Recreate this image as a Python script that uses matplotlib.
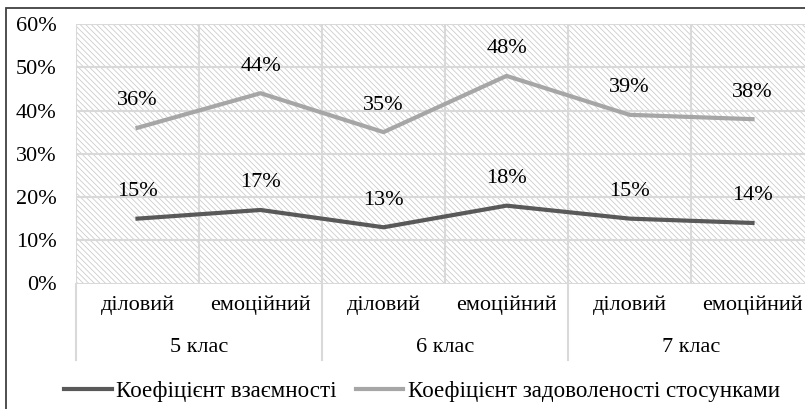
import matplotlib.pyplot as plt
from matplotlib.patches import Rectangle
import matplotlib.transforms as mtransforms

categories = ['діловий', 'емоційний', 'діловий', 'емоційний', 'діловий', 'емоційний']
groups = ['5 клас', '6 клас', '7 клас']
vzaiemnist = [15, 17, 13, 18, 15, 14]
zadovolenist = [36, 44, 35, 48, 39, 38]
series_names = ['Коефіцієнт взаємності', 'Коефіцієнт задоволеності стосунками']
yticks = [0, 10, 20, 30, 40, 50, 60]

plt.rcParams['font.family'] = ['Liberation Serif', 'DejaVu Serif']
plt.rcParams['hatch.linewidth'] = 0.6
fs = 16
grid_c = '#d9d9d9'

fig = plt.figure(figsize=(8.05, 4.09), dpi=100)
# chart border (cut off on right and bottom like the original)
fig.patches.append(Rectangle((6 / 805, -0.1), 1.2, 1 - 8 / 409 + 0.1,
                             transform=fig.transFigure, fill=False,
                             edgecolor='#404040', lw=1.3))

ax = fig.add_axes([76 / 805, 1 - 283.5 / 409, 738 / 805, 259.5 / 409])
ax.set_xlim(-0.5, 5.5)
ax.set_ylim(0, 60)

# hatched background
ax.add_patch(Rectangle((0, 0), 1, 1, transform=ax.transAxes, facecolor='white',
                       edgecolor='#cccccc', hatch='\\\\\\\\\\\\', lw=0, zorder=0))

for y in yticks:
    ax.axhline(y, color=grid_c, lw=1.5, zorder=1)
for i in range(len(categories) + 1):
    ax.axvline(i - 0.5, color=grid_c, lw=1.5, zorder=1)

x = range(len(categories))
ax.plot(x, vzaiemnist, color='#595959', lw=3, zorder=3, label=series_names[0])
ax.plot(x, zadovolenist, color='#a6a6a6', lw=3, zorder=3, label=series_names[1])

for xi, v in zip(x, vzaiemnist):
    ax.annotate(f'{v}%', (xi, v), xytext=(0, 19.5), textcoords='offset points',
                ha='center', va='center', fontsize=fs)
for xi, v in zip(x, zadovolenist):
    ax.annotate(f'{v}%', (xi, v), xytext=(0, 19.5), textcoords='offset points',
                ha='center', va='center', fontsize=fs)

for s in ax.spines.values():
    s.set_visible(False)
ax.set_yticks(yticks)
ax.set_yticklabels([f'{y}%' for y in yticks], fontsize=fs)
ax.tick_params(axis='y', length=0, pad=14)
ax.set_xticks([])

trans = mtransforms.blended_transform_factory(ax.transData, fig.transFigure)
for i, c in enumerate(categories):
    ax.text(i, 1 - 305 / 409, c, transform=trans, ha='center', va='center', fontsize=fs)
for g, name in enumerate(groups):
    ax.text(2 * g + 0.5, 1 - 348 / 409, name, transform=trans, ha='center', va='center', fontsize=fs)
for g in range(len(groups) + 1):
    ax.plot([2 * g - 0.5, 2 * g - 0.5], [1 - 283.5 / 409, 1 - 360 / 409], transform=trans,
            color=grid_c, lw=1.5, clip_on=False)

fig.legend(loc='center', bbox_to_anchor=(422 / 805, 1 - 391 / 409), ncol=2,
           frameon=False, fontsize=16.6, handlelength=2.05, handletextpad=0.18,
           columnspacing=0.87, borderpad=0)

fig.savefig('out.png', dpi=100)
